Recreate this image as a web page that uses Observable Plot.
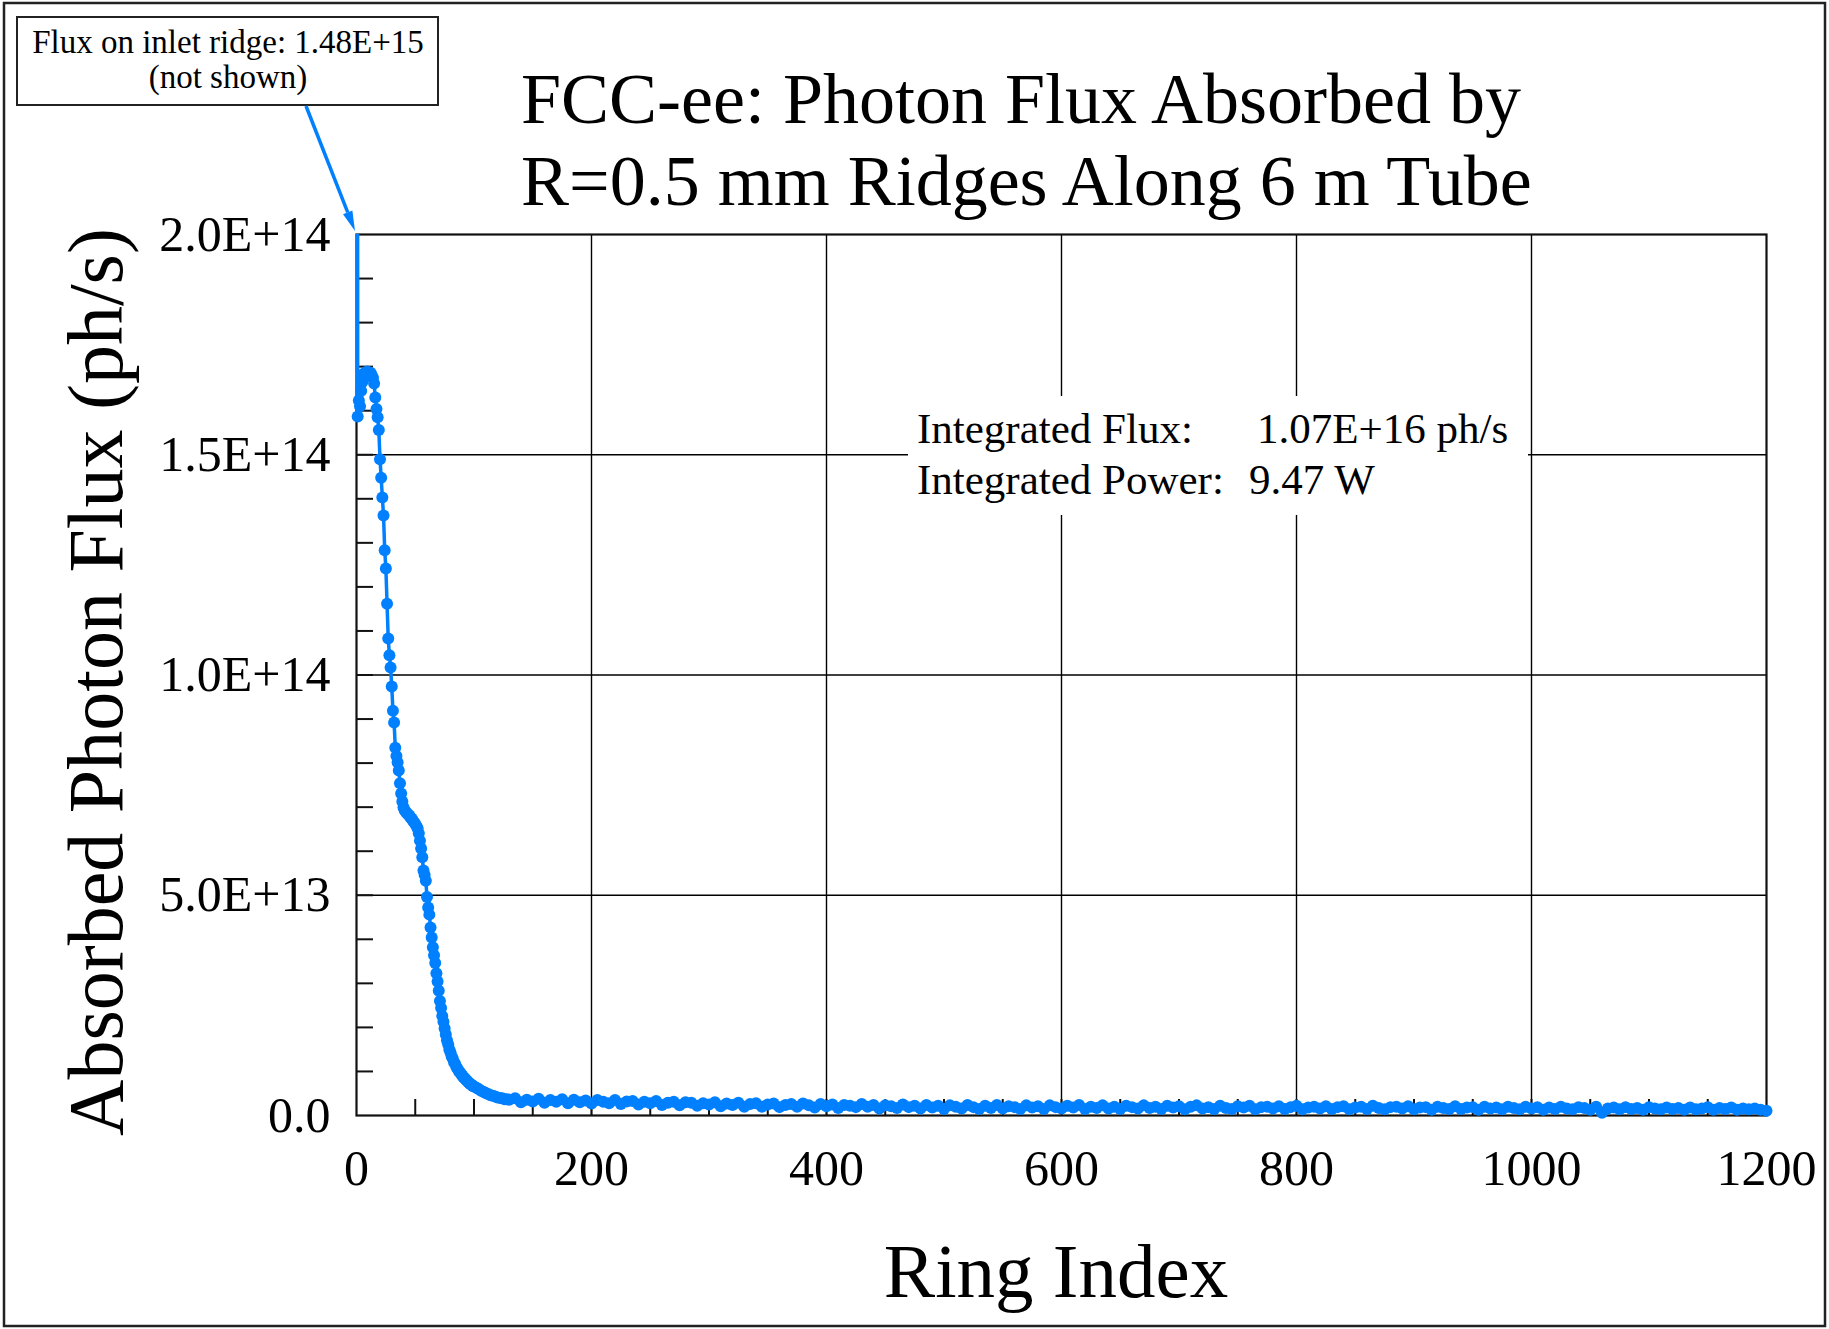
<!DOCTYPE html>
<html>
<head>
<meta charset="utf-8">
<script src="https://cdn.jsdelivr.net/npm/d3@7"></script>
<script src="https://cdn.jsdelivr.net/npm/@observablehq/plot@0.6"></script>
<style>
  html, body { margin: 0; padding: 0; background: #fff; }
  #wrap { position: relative; width: 1829px; height: 1329px; overflow: hidden; background: #fff; }
  #wrap > svg { position: absolute; left: 0; top: 0; }
  #overlay { position: absolute; left: 0; top: 0; pointer-events: none; }
  text { font-family: "Liberation Serif", "Times New Roman", serif; }
</style>
</head>
<body>
<div id="wrap"></div>
<script>
// ---------------- DATA (flux in units of 1E+12 ph/s) ----------------
const titleLines = ["FCC-ee: Photon Flux Absorbed by", "R=0.5 mm Ridges Along 6 m Tube"];
const xLabel = "Ring Index";
const yLabel = "Absorbed Photon Flux (ph/s)";
const noteLines = ["Flux on inlet ridge: 1.48E+15", "(not shown)"];
const statLabels = ["Integrated Flux:", "Integrated Power:"];
const statValues = ["1.07E+16 ph/s", "9.47 W"];

const xTickValues = [0, 200, 400, 600, 800, 1000, 1200];
const xTickLabels = ["0", "200", "400", "600", "800", "1000", "1200"];
const xGridValues = [200, 400, 600, 800, 1000];
const yTickValues = [0, 50, 100, 150, 200];
const yTickLabels = ["0.0", "5.0E+13", "1.0E+14", "1.5E+14", "2.0E+14"];
const yGridValues = [50, 100, 150];

// rings 0..100 (step 1)
const fluxStep1 = [
  1480, 158.7, 162.3, 161.0, 164.5, 166.5, 168.4, 167.6, 168.6, 168.9,
  168.7, 168.3, 168.6, 168.0, 167.5, 166.2, 163.0, 160.4, 158.5, 155.6,
  149.0, 144.8, 140.3, 136.2, 128.3, 124.2, 116.2, 108.3, 104.5, 101.7,
  97.4, 91.9, 89.2, 83.5, 81.6, 80.2, 78.3, 75.4, 73.1, 71.3,
  70.0, 69.3, 68.9, 68.6, 68.3, 68.1, 67.6, 67.4, 66.9, 66.6,
  66.2, 65.7, 65.2, 64.1, 62.4, 60.6, 58.6, 55.6, 54.6, 53.3,
  49.6, 47.2, 45.6, 42.7, 40.4, 38.2, 36.4, 34.6, 32.3, 30.4,
  28.3, 26.0, 24.4, 22.6, 21.3, 19.8, 18.4, 17.1, 16.2, 15.0,
  14.3, 13.4, 12.9, 12.1, 11.7, 11.0, 10.6, 10.1, 9.8, 9.4,
  9.1, 8.7, 8.5, 8.1, 7.9, 7.6, 7.4, 7.1, 7.0, 6.7,
  6.6
];
// rings 102..130 (step 2)
const fluxStep2 = [6.3, 6.0, 5.6, 5.4, 5.1, 4.9, 4.6, 4.5, 4.3, 4.1, 4.0, 3.9, 3.7, 3.7, 3.6];
// rings 135..1200 (step 5)
const fluxStep5 = [
  3.9, 3.0, 3.6, 3.2, 3.8, 2.9, 3.5, 3.1, 3.7, 2.8,
  3.6, 3.0, 3.4, 2.7, 3.5, 3.1, 2.8, 3.5, 2.6, 3.2,
  3.3, 2.5, 3.1, 2.8, 3.3, 2.4, 2.9, 3.1, 2.3, 3.0,
  2.9, 2.2, 2.8, 2.5, 3.0, 2.1, 2.7, 2.4, 2.9, 2.0,
  2.6, 2.8, 2.0, 2.5, 2.7, 1.9, 2.4, 2.6, 2.0, 2.7,
  2.3, 1.8, 2.6, 2.1, 2.5, 1.7, 2.4, 2.2, 1.9, 2.6,
  2.0, 2.4, 1.6, 2.3, 2.1, 1.7, 2.5, 1.9, 2.2, 1.6,
  2.4, 1.8, 2.2, 1.5, 2.3, 2.0, 1.6, 2.4, 1.9, 1.5,
  2.2, 1.7, 2.4, 1.6, 2.1, 1.9, 1.5, 2.3, 1.8, 2.1,
  1.5, 2.3, 1.9, 1.6, 2.2, 1.8, 2.4, 1.5, 2.0, 1.7,
  2.3, 1.6, 2.0, 1.5, 2.2, 1.9, 1.6, 2.3, 1.7, 2.0,
  1.5, 2.2, 1.8, 2.1, 1.4, 2.0, 2.3, 1.6, 1.9, 1.5,
  2.2, 1.7, 1.5, 2.1, 1.8, 2.2, 1.4, 1.9, 2.0, 1.6,
  2.1, 1.5, 1.9, 2.2, 1.4, 1.8, 2.0, 1.6, 2.1, 1.5,
  1.9, 2.1, 1.4, 1.8, 2.0, 1.5, 2.2, 1.7, 1.4, 1.9,
  2.0, 1.6, 2.1, 1.4, 1.8, 1.9, 1.3, 2.0, 1.7, 1.5,
  2.1, 1.5, 1.8, 1.9, 1.3, 2.0, 1.6, 1.8, 1.4, 2.0,
  1.7, 1.4, 2.0, 1.6, 1.9, 1.3, 1.8, 1.5, 2.0, 1.6,
  1.4, 1.9, 1.7, 1.3, 2.0, 0.6, 1.6, 1.8, 1.4, 1.9,
  1.5, 1.7, 1.3, 1.9, 1.6, 1.4, 1.8, 1.5, 1.7, 1.3,
  1.8, 1.4, 1.6, 1.9, 1.3, 1.7, 1.5, 1.8, 1.3, 1.6,
  1.4, 1.6, 1.3, 1.1
];

// ---------------- TABLE ----------------
const data = [
  ...fluxStep1.map((f, i) => ({ring: i, flux: f})),
  ...fluxStep2.map((f, i) => ({ring: 102 + 2 * i, flux: f})),
  ...fluxStep5.map((f, i) => ({ring: 135 + 5 * i, flux: f}))
];

const blue = "#0080ff";
const font = "Liberation Serif, Times New Roman, serif";

const chart = Plot.plot({
  width: 1829,
  height: 1329,
  marginLeft: 356,
  marginRight: 63,
  marginTop: 234,
  marginBottom: 214,
  x: {domain: [0, 1200]},
  y: {domain: [0, 200]},
  style: {fontFamily: font, background: "transparent", overflow: "visible", color: "#000"},
  marks: [
    Plot.gridX(xGridValues, {stroke: "#000", strokeOpacity: 1, strokeWidth: 1.4}),
    Plot.gridY(yGridValues, {stroke: "#000", strokeOpacity: 1, strokeWidth: 1.4}),
    Plot.frame({stroke: "#111", strokeWidth: 2.2}),
    Plot.axisX(d3.range(50, 1200, 50), {tickSize: 16, dy: -16, tickFormat: () => "", label: null, stroke: "#111", strokeWidth: 2}),
    Plot.axisY(d3.range(10, 200, 10), {tickSize: 17, dx: 17, tickFormat: () => "", label: null, stroke: "#111", strokeWidth: 2}),
    Plot.axisX(xTickValues, {tickSize: 0, tickPadding: 34, fontSize: 50, label: null,
      tickFormat: d => xTickLabels[xTickValues.indexOf(d)]}),
    Plot.axisY(yTickValues, {tickSize: 0, tickPadding: 26, fontSize: 50, label: null,
      tickFormat: d => yTickLabels[yTickValues.indexOf(d)]}),
    Plot.line(data, {x: "ring", y: "flux", stroke: blue, strokeWidth: 3.5, clip: true}),
    Plot.dot(data.filter(d => d.flux <= 200), {x: "ring", y: "flux", r: 6, fill: blue, stroke: "none"})
  ]
});

const wrap = document.getElementById("wrap");
wrap.appendChild(chart);

// ---------------- OVERLAY (titles, labels, boxes, arrow) ----------------
const sx = chart.scale("x"), sy = chart.scale("y");
const ns = "http://www.w3.org/2000/svg";
const ov = d3.select(wrap).append(() => document.createElementNS(ns, "svg"))
  .attr("id", "overlay").attr("width", 1829).attr("height", 1329);

// outer border
ov.append("rect").attr("x", 4).attr("y", 3).attr("width", 1821).attr("height", 1323)
  .attr("fill", "none").attr("stroke", "#222").attr("stroke-width", 2.5);

// title
titleLines.forEach((t, i) => {
  ov.append("text").attr("x", 521).attr("y", 123 + i * 82)
    .attr("font-size", 72).attr("fill", "#000").text(t);
});

// y label
ov.append("text").attr("transform", "translate(122,682) rotate(-90)")
  .attr("text-anchor", "middle").attr("font-size", 78).attr("fill", "#000").text(yLabel);

// x label
ov.append("text").attr("x", 1056).attr("y", 1297).attr("text-anchor", "middle")
  .attr("font-size", 77).attr("fill", "#000").text(xLabel);

// stats box
ov.append("rect").attr("x", 908).attr("y", 396).attr("width", 620).attr("height", 119).attr("fill", "#fff");
const statY = [443, 494];
const statValX = [1257, 1249];
statLabels.forEach((t, i) => {
  ov.append("text").attr("x", 917).attr("y", statY[i]).attr("font-size", 43).attr("fill", "#000").text(t);
  ov.append("text").attr("x", statValX[i]).attr("y", statY[i]).attr("font-size", 43).attr("fill", "#000").text(statValues[i]);
});

// annotation box
ov.append("rect").attr("x", 17).attr("y", 17).attr("width", 421).attr("height", 88)
  .attr("fill", "#fff").attr("stroke", "#222").attr("stroke-width", 2);
noteLines.forEach((t, i) => {
  ov.append("text").attr("x", 228).attr("y", 53 + i * 35).attr("text-anchor", "middle")
    .attr("font-size", 33).attr("fill", "#000").text(t);
});

// arrow from the note to the (clipped) inlet ridge value at ring 0
const ax0 = 306, ay0 = 106;
const ax1 = sx.apply(0) - 1, ay1 = sy.apply(200) - 3;
const ang = Math.atan2(ay1 - ay0, ax1 - ax0);
const hl = 20, hw = 5;
const bx = ax1 - hl * Math.cos(ang), by = ay1 - hl * Math.sin(ang);
ov.append("line").attr("x1", ax0).attr("y1", ay0).attr("x2", bx).attr("y2", by)
  .attr("stroke", blue).attr("stroke-width", 3.5);
ov.append("polygon").attr("points", [
  [ax1, ay1],
  [bx + hw * Math.sin(ang), by - hw * Math.cos(ang)],
  [bx - hw * Math.sin(ang), by + hw * Math.cos(ang)]
].map(p => p.join(",")).join(" ")).attr("fill", blue);
</script>
</body>
</html>
